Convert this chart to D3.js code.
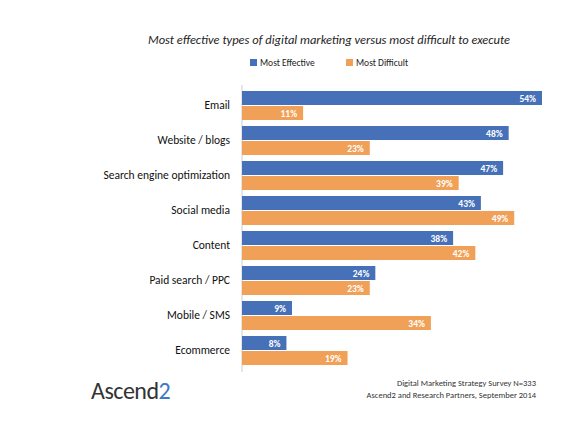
<!DOCTYPE html><html><head><meta charset="utf-8"><script src="https://cdn.jsdelivr.net/npm/d3@7"></script>
<style>body{margin:0;background:#fff}</style></head><body><svg id="c" width="582" height="427"></svg>
<script>
const categories=["Email","Website / blogs","Search engine optimization","Social media","Content","Paid search / PPC","Mobile / SMS","Ecommerce"];
const effective=[54,48,47,43,38,24,9,8];
const difficult=[11,23,39,49,42,23,34,19];
const seriesNames=["Most Effective","Most Difficult"];
const colors=["#4670b8","#f0a057"];
const svg=d3.select("#c");const F="Calibri, 'Liberation Sans', 'Open Sans', sans-serif";
svg.append("text").attr("x",329).attr("y",44).attr("text-anchor","middle").attr("font-family",F).attr("font-style","italic").attr("font-size",12.5).attr("fill","#222").text("Most effective types of digital marketing versus most difficult to execute");
const lg=svg.append("g").attr("font-family",F).attr("font-size",9.5).attr("fill","#222");
[[250,0],[346,1]].forEach(([x,i])=>{lg.append("rect").attr("x",x).attr("y",59).attr("width",7).attr("height",7).attr("fill",colors[i]);lg.append("text").attr("x",x+10).attr("y",66).text(seriesNames[i]);});
const x=d3.scaleLinear().domain([0,54]).range([242,542]);
const y=d3.scaleBand().domain(categories).range([85,365]).paddingInner(0);
const bh=14;
svg.append("line").attr("x1",242).attr("x2",242).attr("y1",85).attr("y2",372).attr("stroke","#ccc");
categories.forEach((c,i)=>{const y0=y(c)+6;
 svg.append("text").attr("x",230).attr("y",y0+bh+4).attr("text-anchor","end").attr("font-family",F).attr("font-size",11.5).attr("fill","#111").text(c);
 [effective[i],difficult[i]].forEach((v,j)=>{const yy=y0+j*(bh+1);
  svg.append("rect").attr("x",x(0)).attr("y",yy).attr("width",x(v)-x(0)).attr("height",bh).attr("fill",colors[j]);
  svg.append("text").attr("x",x(v)-6).attr("y",yy+10.5).attr("text-anchor","end").attr("font-family",F).attr("font-weight","bold").attr("font-size",9.5).attr("fill","#fff").text(v+"%");
 });});
const lt=svg.append("text").attr("x",91).attr("y",399).attr("font-family",F).attr("font-size",24).attr("fill","#333").attr("letter-spacing",-0.5);
lt.append("tspan").text("Ascend");lt.append("tspan").attr("fill","#3d78c4").text("2");
["Digital Marketing Strategy Survey N=333","Ascend2 and Research Partners, September  2014"].forEach((t,i)=>svg.append("text").attr("x",536).attr("y",386+i*12).attr("text-anchor","end").attr("font-family",F).attr("font-size",8.5).attr("fill","#333").text(t));
</script></body></html>
